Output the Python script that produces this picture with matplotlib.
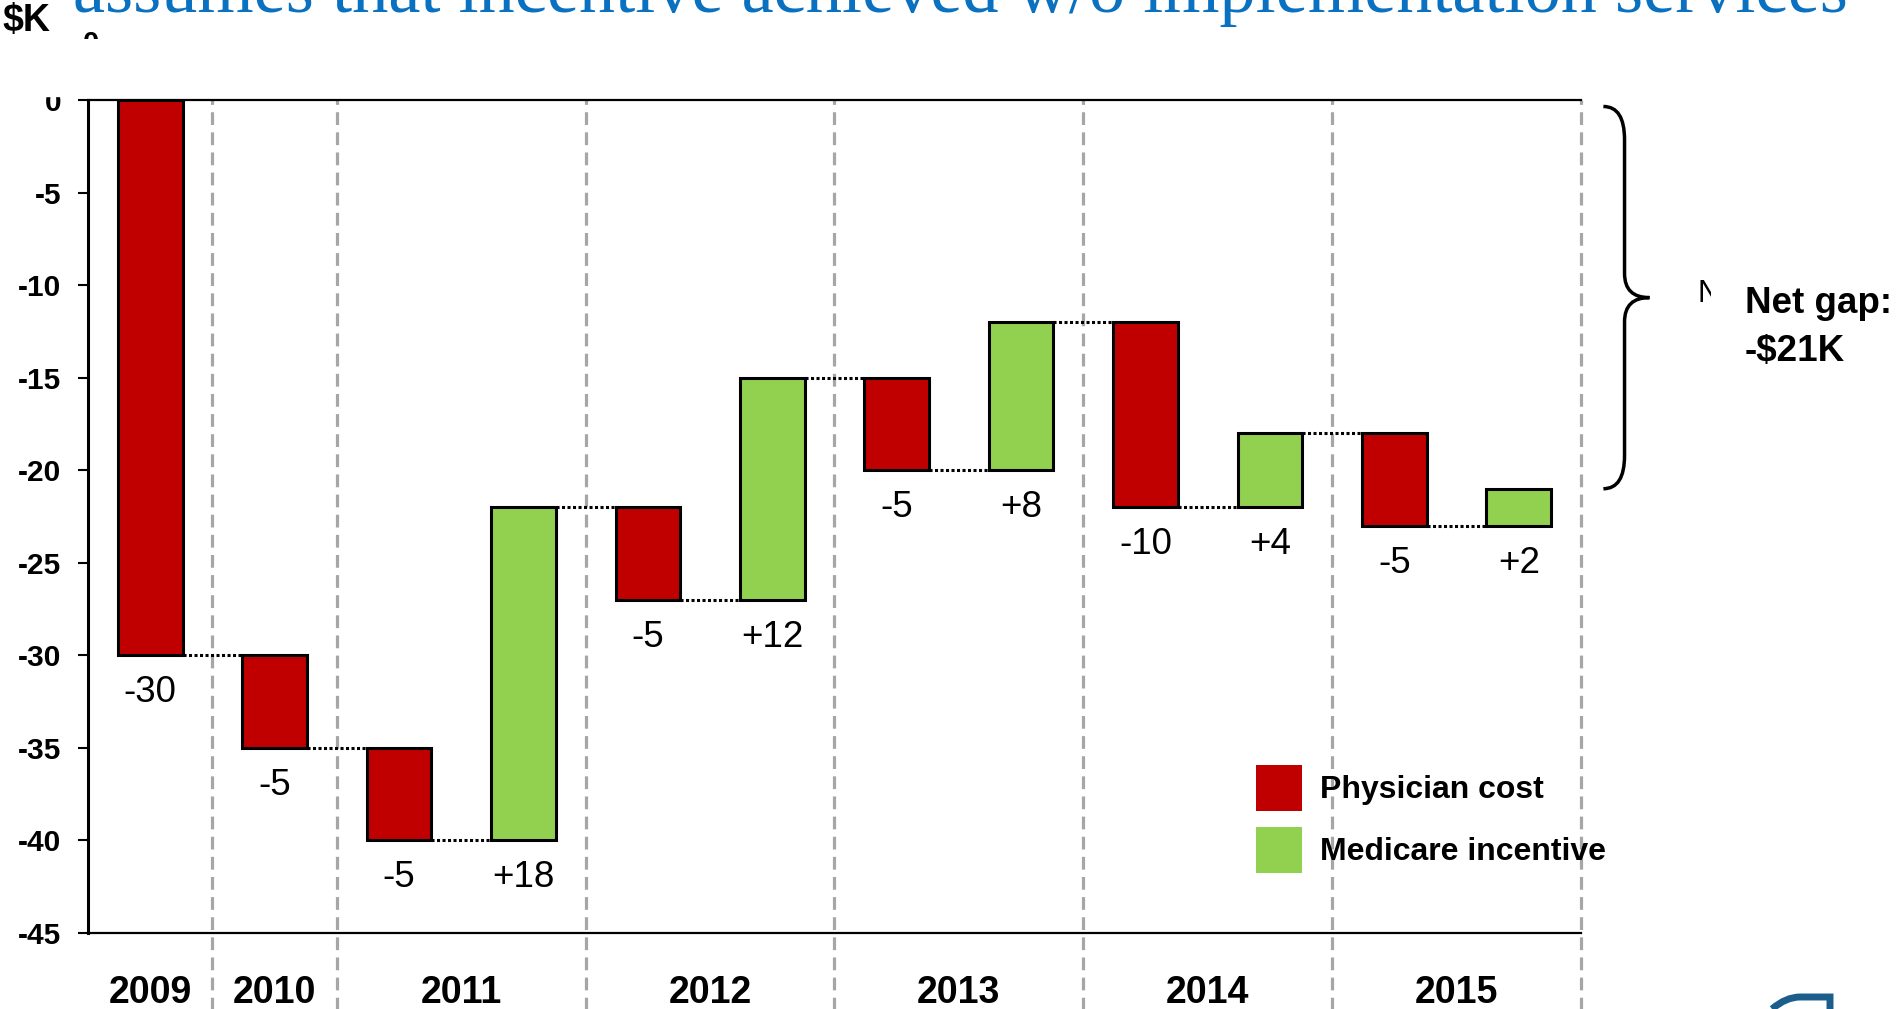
import matplotlib
matplotlib.use('Agg')
import matplotlib.pyplot as plt
import matplotlib.transforms as mtransforms
from matplotlib.patches import Patch, PathPatch, Rectangle
from matplotlib.path import Path

# waterfall steps in $K, one entry per bar
years = [2009, 2010, 2011, 2011, 2012, 2012, 2013, 2013, 2014, 2014, 2015, 2015]
changes = [-30, -5, -5, 18, -5, 12, -5, 8, -10, 4, -5, 2]
y_ticks = [0, -5, -10, -15, -20, -25, -30, -35, -40, -45]
legend_labels = ['Physician cost', 'Medicare incentive']
title = 'assumes that incentive achieved w/o implementation services'

RED = '#C00000'
GREEN = '#92D050'
TITLE_BLUE = '#0A70C0'
SEP_GRAY = '#A6A6A6'

plt.rcParams['font.family'] = ['Liberation Sans', 'DejaVu Sans']

W, H = 1899, 1009
fig = plt.figure(figsize=(W / 100, H / 100), dpi=100)
ax = fig.add_axes([88 / W, 1 - 933 / H, (1581 - 88) / W, (933 - 100) / H])

# running totals
starts, ends = [], []
total = 0
for c in changes:
    starts.append(total)
    total += c
    ends.append(total)

x = list(range(len(changes)))
bw = 0.52
colors = [RED if c < 0 else GREEN for c in changes]
ax.bar(x, changes, bottom=starts, width=bw, color=colors,
       edgecolor='black', linewidth=2.2, zorder=3)

# dotted connectors between bars
for i in range(len(changes) - 1):
    ax.plot([i + bw / 2, i + 1 - bw / 2], [ends[i], ends[i]], color='black',
            lw=2.2, ls=(0, (1, 0.8)), zorder=4)

# value labels under each bar
for i, c in enumerate(changes):
    low = min(starts[i], ends[i])
    ax.annotate(f'{c:+d}', (i, low), xytext=(0, -27), textcoords='offset points',
                ha='center', va='center', fontsize=26.5)

# year groups: labels + dashed separators
groups = []
for i, yr in enumerate(years):
    if groups and groups[-1][0] == yr:
        groups[-1][2] = i
    else:
        groups.append([yr, i, i])
trans = mtransforms.blended_transform_factory(ax.transData, fig.transFigure)
for yr, a, b in groups:
    ax.text((a + b) / 2, 6 / H, str(yr), transform=trans, ha='center',
            va='baseline', fontsize=27, fontweight='bold')
    ax.axvline(b + 0.5, ymin=-0.1, ymax=1, color=SEP_GRAY, lw=2.3,
               ls=(0, (4, 2.3)), clip_on=False, zorder=1)

ax.set_xlim(-0.5, len(changes) - 0.5)
ax.set_ylim(-45, 0)
ax.set_yticks(y_ticks)
ax.set_yticklabels([str(t) for t in y_ticks], fontweight='bold', fontsize=21.5)
ax.tick_params(axis='y', length=7, width=1.5, pad=12, direction='out')
ax.set_xticks([])
ax.spines['right'].set_visible(False)
ax.spines['left'].set_linewidth(2.2)
ax.spines['top'].set_linewidth(1.6)
ax.spines['bottom'].set_linewidth(1.6)

# legend
handles = [Patch(facecolor=RED), Patch(facecolor=GREEN)]
ax.legend(handles, legend_labels, loc='upper left',
          bbox_to_anchor=(1256 / W, 1 - 765 / H), bbox_transform=fig.transFigure,
          frameon=False, prop={'size': 23, 'weight': 'bold'},
          handlelength=1.45, handleheight=1.84, handletextpad=0.56,
          labelspacing=0.5, borderpad=0, borderaxespad=0)

# curly brace showing the net gap
x0, x1, x2 = 11.68, 11.85, 12.05
ytop, ybot = starts[0] - 0.35, ends[-1]
ymid = (ytop + ybot) / 2
h, hm = 1.8, 1.3
verts = [(x0, ytop), (x1, ytop), (x1, ytop - h),
         (x1, ymid + hm), (x1, ymid), (x2, ymid),
         (x1, ymid), (x1, ymid - hm),
         (x1, ybot + h), (x1, ybot), (x0, ybot)]
codes = [Path.MOVETO, Path.CURVE3, Path.CURVE3,
         Path.LINETO, Path.CURVE3, Path.CURVE3,
         Path.CURVE3, Path.CURVE3,
         Path.LINETO, Path.CURVE3, Path.CURVE3]
ax.add_patch(PathPatch(Path(verts, codes), fill=False, lw=2.5,
                       edgecolor='black', clip_on=False))

fig.text(1745 / W, 1 - 313 / H, 'Net gap:', fontsize=26.5, fontweight='bold', va='baseline')
fig.text(1745 / W, 1 - 361 / H, f'-${abs(total)}K', fontsize=26.5, fontweight='bold', va='baseline')

# stray clipped "N" left of the net gap label
tn = fig.text(1698 / W, 1 - 302 / H, 'N', fontsize=22, va='baseline')
tn.set_clip_box(mtransforms.Bbox.from_extents(1690, H - 312, 1711, H - 270))
tn.set_clip_on(True)

# cut-off title and unit label
fig.text(73 / W, 1 - 12 / H, title, fontsize=52, family='Liberation Serif',
         color=TITLE_BLUE, va='baseline')
fig.text(2 / W, 1 - 31 / H, '$K', fontsize=27, fontweight='bold', va='baseline')

# top of the "0" label is hidden, a fragment sits below $K
fig.patches.append(Rectangle((20 / W, 1 - 96 / H), 56 / W, 45 / H,
                             transform=fig.transFigure, color='white', zorder=5))
t0 = fig.text(83 / W, 1 - 52 / H, '0', fontsize=21, fontweight='bold', va='baseline')
t0.set_clip_box(mtransforms.Bbox.from_extents(78, H - 39, 102, H - 31))
t0.set_clip_on(True)

# partial logo at the bottom right
lv = [(1772 / W, 0), (1786 / W, 12 / H), (1800 / W, 12 / H),
      (1830 / W, 12 / H), (1830 / W, 0)]
lc = [Path.MOVETO, Path.CURVE3, Path.CURVE3, Path.LINETO, Path.LINETO]
fig.patches.append(PathPatch(Path(lv, lc), fill=False, lw=5, edgecolor='#1B5E8C',
                             transform=fig.transFigure))

fig.savefig('out.png', dpi=100)
